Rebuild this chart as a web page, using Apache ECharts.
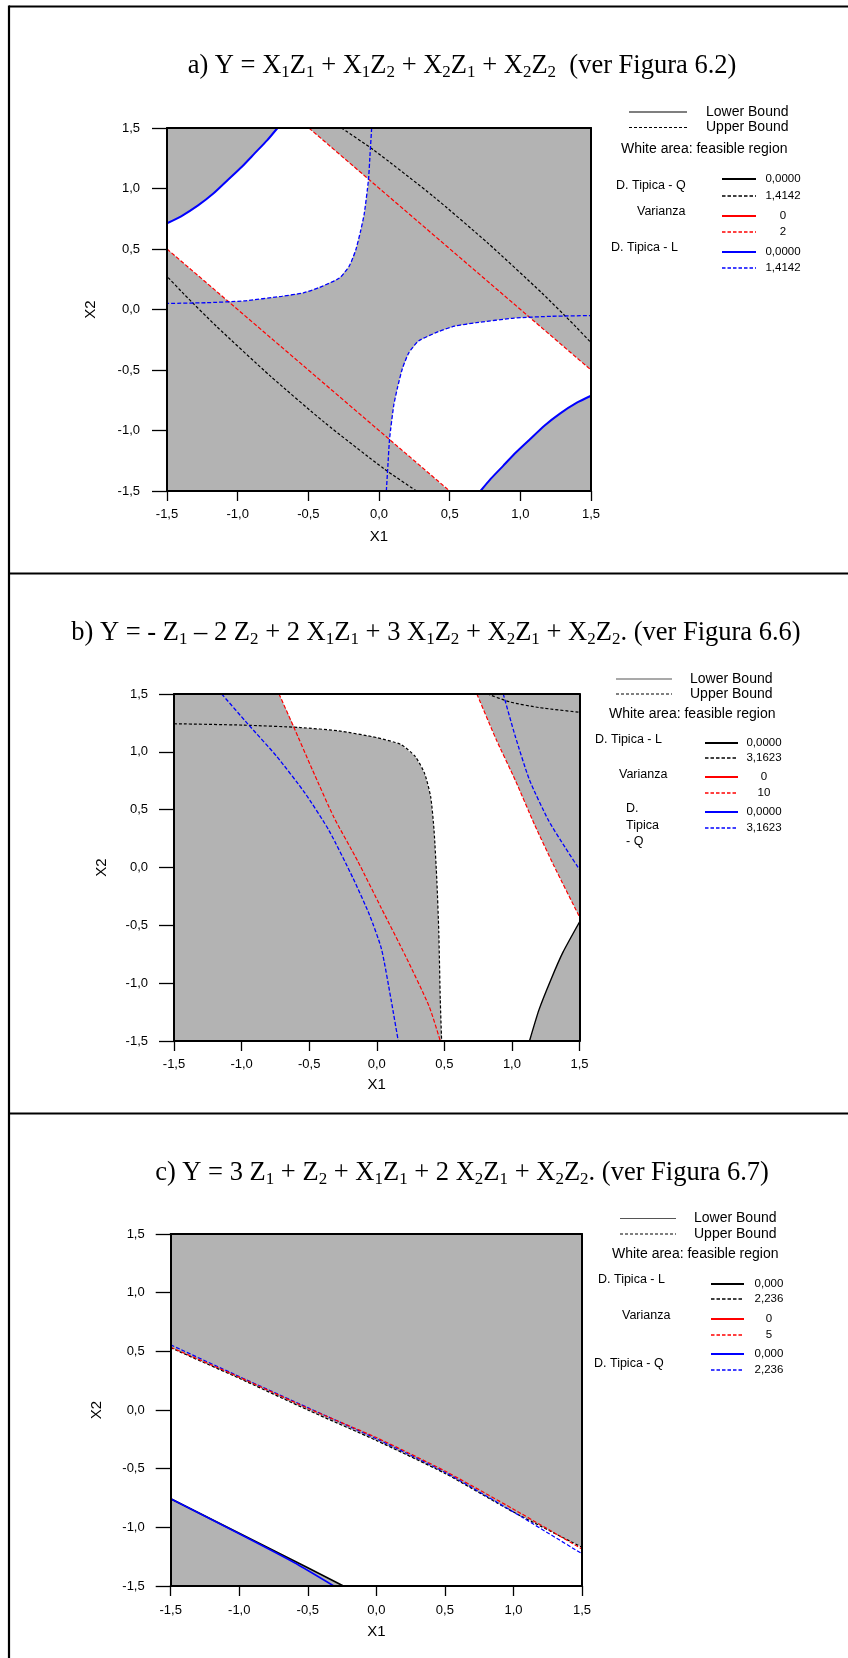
<!DOCTYPE html>
<html><head><meta charset="utf-8">
<script src="https://cdn.jsdelivr.net/npm/echarts@6/dist/echarts.min.js"></script>
<style>html,body{margin:0;padding:0;background:#fff}#c{width:848px;height:1658px}</style>
</head><body><div id="c"></div>
<script>
// ---------- axis ticks ----------
const tickValues = [-1.5, -1, -0.5, 0, 0.5, 1, 1.5];
const tickLabels = ['-1,5', '-1,0', '-0,5', '0,0', '0,5', '1,0', '1,5'];
const axisNames = ['X1', 'X2'];

// ---------- panel a ----------
const aBlueSolid1 = [[-1.5,0.713],[-1.4,0.77],[-1.28,0.86],[-1.17,0.96],[-1.07,1.07],[-0.97,1.18],[-0.88,1.29],[-0.79,1.4],[-0.718,1.5]];
const aBlueSolid2 = [[0.718,-1.5],[0.79,-1.4],[0.88,-1.29],[0.97,-1.18],[1.07,-1.07],[1.17,-0.96],[1.28,-0.86],[1.4,-0.77],[1.5,-0.713]];
const aBlueDashed1 = [[-0.052,1.5],[-0.063,1.288],[-0.075,1.067],[-0.105,0.787],[-0.132,0.64],[-0.165,0.49],[-0.21,0.36],[-0.28,0.26],[-0.42,0.183],[-0.534,0.138],[-0.688,0.109],[-0.956,0.071],[-1.224,0.056],[-1.5,0.05]];
const aBlueDashed2 = [[0.052,-1.5],[0.063,-1.288],[0.075,-1.067],[0.105,-0.787],[0.132,-0.64],[0.165,-0.49],[0.21,-0.36],[0.28,-0.26],[0.42,-0.183],[0.534,-0.138],[0.688,-0.109],[0.956,-0.071],[1.224,-0.056],[1.5,-0.05]];
const aBlackDashed1 = [[-0.266,1.5],[-0.036,1.317],[0.385,0.934],[0.768,0.551],[1.151,0.138],[1.38,-0.127],[1.5,-0.274]];
const aBlackDashed2 = [[0.266,-1.5],[0.036,-1.317],[-0.385,-0.934],[-0.768,-0.551],[-1.151,-0.138],[-1.38,0.127],[-1.5,0.274]];
const aRed1 = [[-0.496,1.5],[1.5,-0.5]];
const aRed2 = [[-1.5,0.5],[0.5,-1.5]];
const aWhite1 = [[-1.5,0.5],[-1.5,0.713],[-1.4,0.77],[-1.28,0.86],[-1.17,0.96],[-1.07,1.07],[-0.97,1.18],[-0.88,1.29],[-0.79,1.4],[-0.718,1.5],[-0.496,1.5],[-0.072,1.072],[-0.105,0.787],[-0.132,0.64],[-0.165,0.49],[-0.21,0.36],[-0.28,0.26],[-0.42,0.183],[-0.534,0.138],[-0.688,0.109],[-0.956,0.071],[-1.065,0.065]];
const aWhite2 = [[1.5,-0.5],[1.5,-0.713],[1.4,-0.77],[1.28,-0.86],[1.17,-0.96],[1.07,-1.07],[0.97,-1.18],[0.88,-1.29],[0.79,-1.4],[0.718,-1.5],[0.496,-1.5],[0.072,-1.072],[0.105,-0.787],[0.132,-0.64],[0.165,-0.49],[0.21,-0.36],[0.28,-0.26],[0.42,-0.183],[0.534,-0.138],[0.688,-0.109],[0.956,-0.071],[1.065,-0.065]];

// ---------- panel b ----------
const bBlackDashed1 = [[-1.5,1.243],[-0.988,1.231],[-0.565,1.21],[-0.282,1.181],[0,1.123],[0.177,1.064],[0.283,0.962],[0.353,0.816],[0.399,0.611],[0.424,0.319],[0.445,-0.12],[0.459,-0.558],[0.47,-1.143],[0.48,-1.5]];
const bBlackDashed2 = [[0.819,1.5],[0.989,1.43],[1.2,1.383],[1.5,1.342]];
const bRed1 = [[-0.723,1.5],[-0.618,1.225],[-0.476,0.845],[-0.318,0.436],[-0.141,0.056],[0.035,-0.354],[0.212,-0.763],[0.388,-1.202],[0.47,-1.5]];
const bRed2 = [[0.741,1.5],[0.883,1.108],[1.024,0.757],[1.165,0.377],[1.306,0.026],[1.5,-0.427]];
const bBlue1 = [[-1.147,1.5],[-0.953,1.24],[-0.741,0.962],[-0.529,0.64],[-0.353,0.319],[-0.176,-0.091],[-0.053,-0.412],[0.035,-0.705],[0.106,-1.143],[0.159,-1.5]];
const bBlue2 = [[0.936,1.5],[1.024,1.137],[1.13,0.757],[1.271,0.406],[1.394,0.173],[1.5,-0.018]];
const bBlackSolid = [[1.13,-1.5],[1.2,-1.231],[1.289,-0.968],[1.377,-0.734],[1.5,-0.471]];
const bWhite = [[-0.723,1.5],[-0.61,1.215],[-0.565,1.21],[-0.282,1.181],[0,1.123],[0.177,1.064],[0.283,0.962],[0.353,0.816],[0.399,0.611],[0.424,0.319],[0.445,-0.12],[0.459,-0.558],[0.47,-1.143],[0.48,-1.5],[1.13,-1.5],[1.2,-1.231],[1.289,-0.968],[1.377,-0.734],[1.5,-0.471],[1.5,-0.427],[1.306,0.026],[1.165,0.377],[1.024,0.757],[0.883,1.108],[0.741,1.5]];

// ---------- panel c ----------
const cBlackDashed = [[-1.5,0.53],[-1.0,0.27],[-0.5,0.0],[0,-0.26],[0.5,-0.54],[1.0,-0.87],[1.5,-1.17]];
const cRedDashed = [[-1.5,0.535],[-1.0,0.28],[-0.5,0.015],[0,-0.235],[0.5,-0.52],[1.0,-0.845],[1.5,-1.185]];
const cBlueDashed = [[-1.5,0.555],[-1.0,0.285],[-0.5,0.02],[0,-0.245],[0.5,-0.53],[1.0,-0.87],[1.5,-1.225]];
const cBlackSolid = [[-1.5,-0.757],[-1.0,-1.05],[-0.5,-1.345],[-0.24,-1.5]];
const cBlueSolid = [[-1.5,-0.757],[-1.0,-1.055],[-0.6,-1.3],[-0.31,-1.5]];
const cWhite = [[-1.5,0.53],[-1.0,0.27],[-0.5,0.0],[0,-0.26],[0.5,-0.54],[1.0,-0.87],[1.5,-1.17],[1.5,-1.5],[-0.24,-1.5],[-0.5,-1.345],[-1.0,-1.05],[-1.5,-0.757]];

// ---------- texts ----------
const titles = [
  'a) Y = X{s|1}Z{s|1} + X{s|1}Z{s|2} + X{s|2}Z{s|1} + X{s|2}Z{s|2}  (ver Figura 6.2)',
  'b) Y = - Z{s|1} \u2013 2 Z{s|2} + 2 X{s|1}Z{s|1} + 3 X{s|1}Z{s|2} + X{s|2}Z{s|1} + X{s|2}Z{s|2}. (ver Figura 6.6)',
  'c) Y = 3 Z{s|1} + Z{s|2} + X{s|1}Z{s|1} + 2 X{s|2}Z{s|1} + X{s|2}Z{s|2}. (ver Figura 6.7)'
];
const boundLabels = ['Lower Bound', 'Upper Bound', 'White area: feasible region'];
const groupsA = ['D. Tipica - Q', 'Varianza', 'D. Tipica - L'];
const valuesA = ['0,0000', '1,4142', '0', '2', '0,0000', '1,4142'];
const groupsB = ['D. Tipica - L', 'Varianza', 'D.', 'Tipica', '- Q'];
const valuesB = ['0,0000', '3,1623', '0', '10', '0,0000', '3,1623'];
const groupsC = ['D. Tipica - L', 'Varianza', 'D. Tipica - Q'];
const valuesC = ['0,000', '2,236', '0', '5', '0,000', '2,236'];

// ---------- layout ----------
const grids = [
  {left: 167, top: 128, width: 424, height: 363, xLabelMargin: 17, yLabelMargin: 27, xNameGap: 38, yNameGap: 69},
  {left: 174, top: 694, width: 405.5, height: 347, xLabelMargin: 17, yLabelMargin: 26, xNameGap: 36, yNameGap: 65},
  {left: 170.7, top: 1234, width: 411.3, height: 352, xLabelMargin: 18, yLabelMargin: 26, xNameGap: 38, yNameGap: 66}
];
const SANS = '"Liberation Sans", Arial, sans-serif';
const SERIF = '"Liberation Serif", "Times New Roman", serif';
const GRAY = '#b3b3b3';
const fmt = v => { const i = tickValues.findIndex(t => Math.abs(t - v) < 1e-9); return i >= 0 ? tickLabels[i] : ''; };

const xAxes = [], yAxes = [];
grids.forEach((g, i) => {
  const common = {gridIndex: i, type: 'value', min: -1.5, max: 1.5, interval: 0.5, z: 10,
    splitLine: {show: false}, axisLine: {show: true, onZero: false, lineStyle: {color: '#000', width: 2}}};
  xAxes.push(Object.assign({}, common, {position: 'bottom',
    axisTick: {show: true, length: 10, lineStyle: {color: '#000', width: 1.3}},
    axisLabel: {formatter: fmt, margin: g.xLabelMargin, color: '#000', fontSize: 13, fontFamily: SANS},
    name: axisNames[0], nameLocation: 'middle', nameGap: g.xNameGap, nameTextStyle: {color: '#000', fontSize: 15, fontFamily: SANS}}));
  xAxes.push(Object.assign({}, common, {position: 'top', axisTick: {show: false}, axisLabel: {show: false}}));
  yAxes.push(Object.assign({}, common, {position: 'left',
    axisTick: {show: true, length: 15, lineStyle: {color: '#000', width: 1.3}},
    axisLabel: {formatter: fmt, margin: g.yLabelMargin, color: '#000', fontSize: 13, fontFamily: SANS},
    name: axisNames[1], nameLocation: 'middle', nameGap: g.yNameGap, nameTextStyle: {color: '#000', fontSize: 15, fontFamily: SANS}}));
  yAxes.push(Object.assign({}, common, {position: 'right', axisTick: {show: false}, axisLabel: {show: false}}));
});

const series = [];
function poly(gi, pts) {
  series.push({type: 'custom', xAxisIndex: gi * 2, yAxisIndex: gi * 2, data: [[0, 0]], silent: true, z: 1,
    renderItem: (params, api) => ({type: 'polygon', shape: {points: pts.map(p => api.coord(p))}, style: {fill: '#fff'}})});
}
function curve(gi, pts, color, width, dash, smooth) {
  series.push({type: 'line', xAxisIndex: gi * 2, yAxisIndex: gi * 2, data: pts, showSymbol: false, symbol: 'none',
    silent: true, z: 3, clip: true, smooth: smooth || false, lineStyle: {color: color, width: width, type: dash ? dash : 'solid'}});
}
const D = [4, 2], DB = [3, 2], S = 0.2;
// panel a
poly(0, aWhite1); poly(0, aWhite2);
curve(0, aBlackDashed1, '#000', 1.2, DB, S); curve(0, aBlackDashed2, '#000', 1.2, DB, S);
curve(0, aRed1, '#ff0000', 1.2, D); curve(0, aRed2, '#ff0000', 1.2, D);
curve(0, aBlueDashed1, '#0000ff', 1.3, D, S); curve(0, aBlueDashed2, '#0000ff', 1.3, D, S);
curve(0, aBlueSolid1, '#0000ff', 2, null, S); curve(0, aBlueSolid2, '#0000ff', 2, null, S);
// panel b
poly(1, bWhite);
curve(1, bBlackDashed1, '#000', 1.2, DB, S); curve(1, bBlackDashed2, '#000', 1.2, DB, S);
curve(1, bRed1, '#ff0000', 1.2, D, S); curve(1, bRed2, '#ff0000', 1.2, D, S);
curve(1, bBlue1, '#0000ff', 1.3, D, S); curve(1, bBlue2, '#0000ff', 1.3, D, S);
curve(1, bBlackSolid, '#000', 1.4, null, S);
// panel c
poly(2, cWhite);
curve(2, cBlackSolid, '#000', 1.6); curve(2, cBlueSolid, '#0000ff', 1.6, null, S);
curve(2, cBlackDashed, '#000', 1.2, DB, S); curve(2, cBlueDashed, '#0000ff', 1.2, D, S); curve(2, cRedDashed, '#ff0000', 1.2, D, S);

// ---------- graphic: frame, titles, legends ----------
const G = [];
function gline(x1, y1, x2, y2, color, w, dash) {
  G.push({type: 'line', silent: true, z: 20, shape: {x1, y1, x2, y2}, style: {stroke: color, lineWidth: w, lineDash: dash || null}});
}
function gtext(x, y, text, size, align) {
  G.push({type: 'text', silent: true, z: 20, x: x, y: y, style: {text: text, fill: '#000', font: size + 'px ' + SANS, align: align || 'left', verticalAlign: 'middle'}});
}
// table lines
gline(9, 6.5, 848, 6.5, '#000', 2.2);
gline(9, 5.5, 9, 1658, '#000', 2.2);
gline(9, 573.5, 848, 573.5, '#000', 2.2);
gline(9, 1113.5, 848, 1113.5, '#000', 2.2);
// titles
const titlePos = [[462, 66], [436, 633], [462, 1173]];
titles.forEach((t, i) => {
  G.push({type: 'text', silent: true, z: 20, x: titlePos[i][0], y: titlePos[i][1], style: {
    text: t, fill: '#000', font: '26.5px ' + SERIF, align: 'center', verticalAlign: 'middle', lineHeight: 31,
    rich: {s: {fontSize: 17, fontFamily: SERIF, verticalAlign: 'bottom', lineHeight: 17, fill: '#000'}}}});
});
// legend builder
function legend(L) {
  gline(L.bx1, L.by1, L.bx2, L.by1, L.lowColor, 1.2);
  gline(L.bx1, L.by2, L.bx2, L.by2, '#000', 1, [3, 2]);
  gtext(L.tx, L.by1, boundLabels[0], 14);
  gtext(L.tx, L.by2, boundLabels[1], 14);
  gtext(L.wx, L.wy, boundLabels[2], 14);
  L.groups.forEach((g, i) => gtext(L.gx[i], L.gy[i], g, 12.5));
  const cols = [L.c1, L.c1, '#ff0000', '#ff0000', L.c3, L.c3];
  L.rows.forEach((y, i) => {
    if (i % 2 === 0) gline(L.sx1, y, L.sx2, y, cols[i], 2);
    else gline(L.sx1, y, L.sx2, y, cols[i], 1.5, [3.5, 2]);
    gtext(L.vx, y, L.values[i], 11.5, 'center');
  });
}
legend({bx1: 629, bx2: 687, by1: 112, by2: 127.5, lowColor: '#000', tx: 706, wx: 621, wy: 149,
  groups: groupsA, gx: [616, 637, 611], gy: [186, 212, 248],
  rows: [179, 196, 216, 232, 252, 268], sx1: 722, sx2: 756, vx: 783, values: valuesA, c1: '#000', c3: '#0000ff'});
legend({bx1: 616, bx2: 672, by1: 679, by2: 694, lowColor: '#555', tx: 690, wx: 609, wy: 714,
  groups: groupsB, gx: [595, 619, 626, 626, 626], gy: [740, 775, 809, 826, 842],
  rows: [743, 758, 777, 793, 812, 828], sx1: 705, sx2: 738, vx: 764, values: valuesB, c1: '#000', c3: '#0000ff'});
legend({bx1: 620, bx2: 676, by1: 1218.5, by2: 1234, lowColor: '#555', tx: 694, wx: 612, wy: 1254,
  groups: groupsC, gx: [598, 622, 594], gy: [1280, 1316, 1364],
  rows: [1284, 1299, 1319, 1335, 1354, 1370], sx1: 711, sx2: 744, vx: 769, values: valuesC, c1: '#000', c3: '#0000ff'});

const chart = echarts.init(document.getElementById('c'), null, {renderer: 'canvas'});
chart.setOption({
  animation: false,
  backgroundColor: '#fff',
  grid: grids.map(g => ({left: g.left, top: g.top, width: g.width, height: g.height, show: true, backgroundColor: GRAY, borderWidth: 0})),
  xAxis: xAxes,
  yAxis: yAxes,
  series: series,
  graphic: G
});
</script></body></html>
